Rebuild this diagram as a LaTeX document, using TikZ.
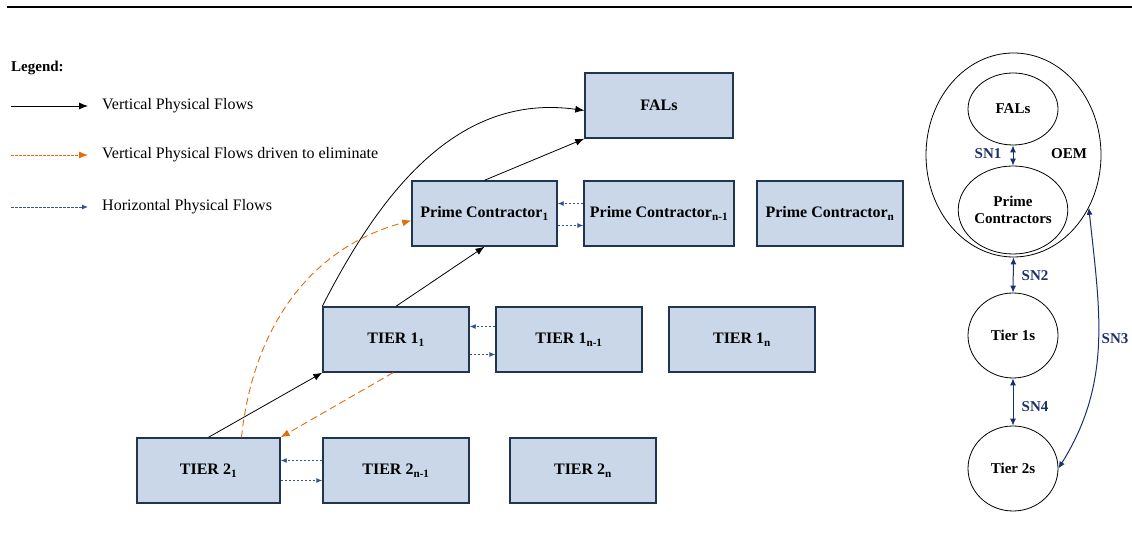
\documentclass[tikz,border=0pt]{standalone}
\usepackage{fontspec}
\setmainfont{Liberation Serif}
\usetikzlibrary{arrows.meta,shapes.geometric}
\definecolor{boxfill}{HTML}{CAD7E8}
\definecolor{boxline}{HTML}{1F3552}
\definecolor{flowor}{HTML}{E46C0A}
\definecolor{flowbl}{HTML}{2F5597}
\definecolor{navy}{HTML}{1B2F6E}
\begin{document}
\begin{tikzpicture}[x=1pt, y=1pt,
    firm/.style = {draw=boxline, line width=1.4pt, fill=boxfill, minimum width=146pt, minimum height=65pt, inner sep=0pt, font=\fontsize{16}{18}\selectfont\bfseries},
    ring/.style = {draw, ellipse, line width=0.8pt, inner sep=0pt, minimum width=90pt, align=center, font=\fontsize{15}{17}\selectfont\bfseries},
    lgd/.style = {anchor=west, inner sep=0pt, font=\fontsize{16}{18}\selectfont},
    vflow/.style = {-{Latex[length=9pt,width=7pt]}, line width=0.8pt},
    eflow/.style = {-{Latex[length=9pt,width=7pt]}, flowor, line width=0.9pt, dash pattern=on 7pt off 4pt},
    hflow/.style = {-{Latex[length=6pt,width=5pt]}, flowbl, line width=0.9pt, dash pattern=on 2.5pt off 1.5pt},
    snflow/.style = {{Latex[length=7pt,width=6pt]}-{Latex[length=7pt,width=6pt]}, navy, line width=1pt},
    snlab/.style = {text=navy, inner sep=0pt, font=\fontsize{15}{17}\selectfont\bfseries}]
    \useasboundingbox (0,0) rectangle (1132,545);
    \draw[line width=2pt] (7,538) -- (1132,538);

    \node[lgd, font=\fontsize{15}{17}\selectfont\bfseries] (lg) at (11,477) {Legend:};
    \coordinate (l1a) at (11,439); \coordinate (l1b) at (88,439);
    \coordinate (l2a) at (11,390); \coordinate (l2b) at (88,390);
    \coordinate (l3a) at (11,338); \coordinate (l3b) at (88,338);
    \draw[vflow] (l1a) -- (l1b);
    \draw[eflow, dash pattern=on 2.5pt off 1.5pt] (l2a) -- (l2b);
    \draw[hflow] (l3a) -- (l3b);
    \node[lgd] (lt1) at (102,439) {Vertical Physical Flows};
    \node[lgd] (lt2) at (102,390) {Vertical Physical Flows driven to eliminate};
    \node[lgd] (lt3) at (102,338) {Horizontal Physical Flows};

    \node[firm, minimum width=148pt] (fals) at (659,439.5) {FALs};
    \node[firm, minimum width=145pt] (pc1) at (484.5,331.5) {Prime Contractor\textsubscript{1}};
    \node[firm, minimum width=150pt] (pc2) at (659,331.5) {Prime Contractor\textsubscript{n-1}};
    \node[firm] (pc3) at (830,331.5) {Prime Contractor\textsubscript{n}};
    \node[firm] (ta1) at (396,205.5) {TIER 1\textsubscript{1}};
    \node[firm] (ta2) at (569,205.5) {TIER 1\textsubscript{n-1}};
    \node[firm] (ta3) at (742,205.5) {TIER 1\textsubscript{n}};
    \node[firm, minimum width=143pt] (tb1) at (208.5,74.5) {TIER 2\textsubscript{1}};
    \node[firm] (tb2) at (396,74.5) {TIER 2\textsubscript{n-1}};
    \node[firm] (tb3) at (583,74.5) {TIER 2\textsubscript{n}};

    \draw[vflow] (tb1.north) -- (ta1.south west);
    \draw[vflow] (ta1.north) -- (pc1.south);
    \draw[vflow] (pc1.north) -- (fals.south west);
    \draw[vflow] (ta1.north west) to[out=63, in=172] ([yshift=-5pt]fals.west);
    \draw[eflow] ([xshift=33pt]tb1.north) to[out=84, in=195] ([yshift=-7pt]pc1.west);
    \draw[eflow] ([xshift=-3pt]ta1.south) -- (tb1.north east);

    \draw[hflow] ([yshift=10pt]pc2.west) -- ([yshift=10pt]pc1.east);
    \draw[hflow] ([yshift=-12pt]pc1.east) -- ([yshift=-12pt]pc2.west);
    \draw[hflow] ([yshift=13pt]ta2.west) -- ([yshift=13pt]ta1.east);
    \draw[hflow] ([yshift=-15pt]ta1.east) -- ([yshift=-15pt]ta2.west);
    \draw[hflow] ([yshift=10pt]tb2.west) -- ([yshift=10pt]tb1.east);
    \draw[hflow] ([yshift=-10pt]tb1.east) -- ([yshift=-10pt]tb2.west);

    \node[ring, minimum width=175pt, minimum height=204pt] (oem) at (1013.5,390) {};
    \node[ring, minimum height=72pt] (cf) at (1013,436) {FALs};
    \node[ring, minimum height=88pt] (cp) at (1013,335) {Prime\\Contractors};
    \node[ring, minimum height=85pt] (c1) at (1013,209.5) {Tier 1s};
    \node[ring, minimum height=85pt] (c2) at (1013,76.5) {Tier 2s};
    \node[ring, draw=none, anchor=center] (oeml) at (1069,391) {OEM};

    \draw[snflow] (cf.south) -- (cp.north);
    \draw[snflow] (oem.south) -- (c1.north);
    \draw[snflow] (c1.south) -- (c2.north);
    \draw[snflow] (oem.-35) to[out=-84, in=58] (c2.east);
    \node[snlab] (sn1) at (988,391) {SN1};
    \node[snlab] (sn2) at (1035,269) {SN2};
    \node[snlab] (sn4) at (1035,138) {SN4};
    \node[snlab] (sn3) at (1115,206) {SN3};
\end{tikzpicture}
\end{document}
